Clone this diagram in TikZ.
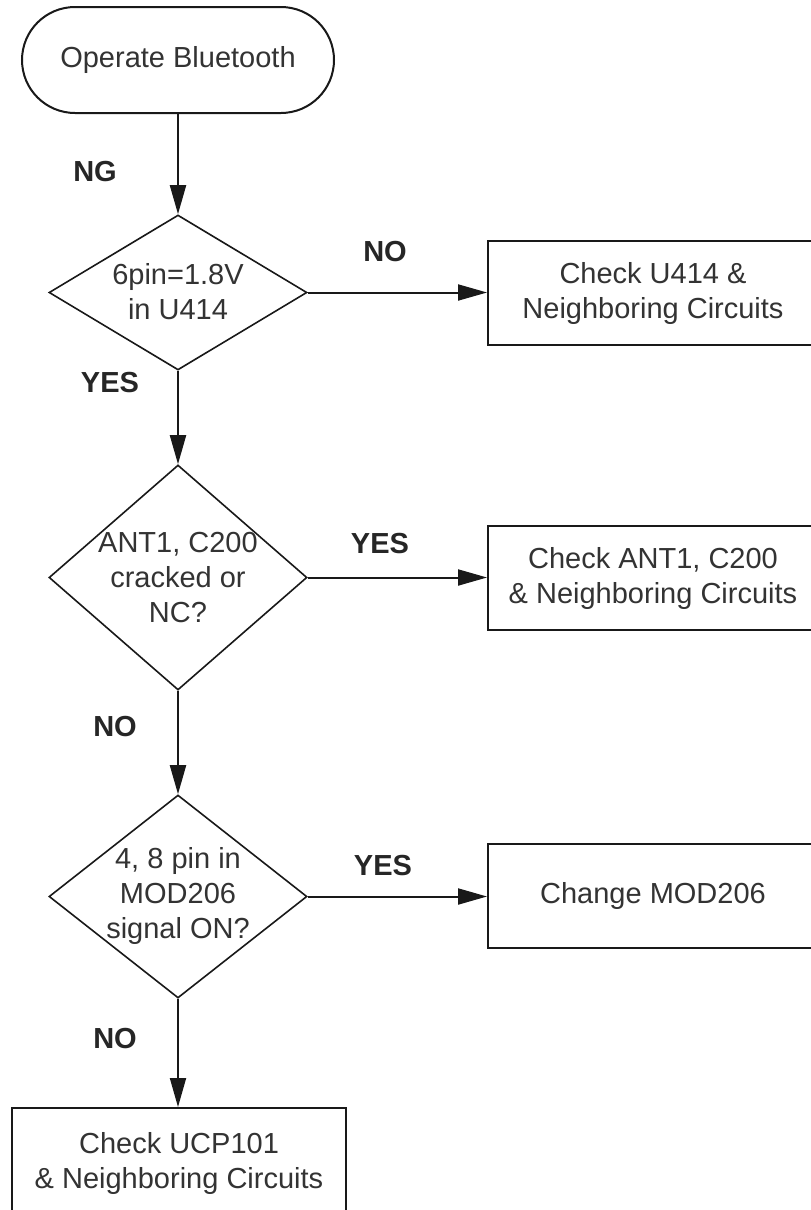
\documentclass[tikz,border=0pt]{standalone}
\usepackage{fontspec}
\setmainfont{Liberation Sans}
\usetikzlibrary{arrows.meta,shapes.geometric}
\begin{document}
\begin{tikzpicture}[x=1pt,y=-1pt,
  ink/.style={draw=black!90},
  arr/.style={ink, line width=2pt, -{Triangle[length=29pt,width=16pt]}},
  boxnode/.style={ink, rectangle, line width=2pt, inner sep=0pt, align=center,
     font=\fontsize{29}{35}\selectfont, text=black!80},
  dia/.style={ink, diamond, line width=1.6pt, inner sep=0pt, minimum width=258pt},
  txt/.style={align=center, font=\fontsize{29}{35}\selectfont, text=black!80, inner sep=0pt},
  lab/.style={font=\bfseries\fontsize{29}{35}\selectfont, text=black!85, inner sep=0pt}]
\fill[white] (0,0) rectangle (811,1210);
\clip (0,0) rectangle (811,1210);
\useasboundingbox (0,0) rectangle (811,1210);

% terminal
\node[boxnode, rounded corners=53pt, minimum width=312pt, minimum height=106pt] (t) at (178,60) {Operate Bluetooth};

% decisions
\node[dia, minimum height=155pt] (d1) at (178,292.5) {};
\node[txt] (d1t) at (178,292) {6pin=1.8V\\in U414};
\node[dia, minimum height=225pt] (d2) at (178,577.5) {};
\node[txt] (d2t) at (178,578) {ANT1, C200\\cracked or\\NC?};
\node[dia, minimum height=203pt] (d3) at (178,896.5) {};
\node[txt] (d3t) at (178,896) {4, 8 pin in\\MOD206\\signal ON?};

% process boxes
\node[boxnode, minimum width=330pt, minimum height=104pt] (b1) at (653,293) {Check U414 \&\\Neighboring Circuits};
\node[boxnode, minimum width=330pt, minimum height=104pt] (b2) at (653,578) {Check ANT1, C200\\\& Neighboring Circuits};
\node[boxnode, minimum width=330pt, minimum height=104pt] (b3) at (653,896) {Change MOD206};
\node[boxnode, minimum width=334pt, minimum height=110pt] (b4) at (179,1163) {Check UCP101\\\& Neighboring Circuits};

% connectors
\draw[arr] (t.south) -- (d1.north);
\draw[arr] (d1.south) -- (d2.north);
\draw[arr] (d2.south) -- (d3.north);
\draw[arr] (d3.south) -- (d3.south |- b4.north);
\draw[arr] (d1.east) -- (d1.east -| b1.west);
\draw[arr] (d2.east) -- (d2.east -| b2.west);
\draw[arr] (d3.east) -- (d3.east -| b3.west);

% labels
\node[lab] (l1) at (95,172) {NG};
\node[lab] (l2) at (385,252) {NO};
\node[lab] (l3) at (110,383) {YES};
\node[lab] (l4) at (380,544) {YES};
\node[lab] (l5) at (115,727) {NO};
\node[lab] (l6) at (383,866) {YES};
\node[lab] (l7) at (115,1039) {NO};
\end{tikzpicture}
\end{document}
